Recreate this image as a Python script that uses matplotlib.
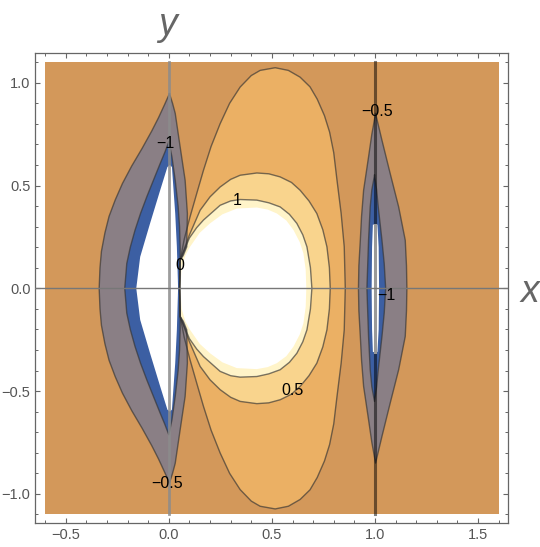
import numpy as np
import matplotlib
matplotlib.use("Agg")
import matplotlib.pyplot as plt
from matplotlib.ticker import MultipleLocator

# plot range of the contour data
x_range = [-0.6, 1.6]
y_range = [-1.1, 1.1]

# contour levels and fill colours (low -> high)
levels = [-1, -0.5, 0, 0.5, 1]
c_blue, c_grey, c_tan, c_orange, c_light, c_pale = \
    '#3c5fa3', '#8a7f85', '#d3985a', '#ebb064', '#f9d48d', '#fff4c9'

# ---- curves, upper half only (mirrored in y) ----
# left lobe, -0.5 contour: left edge and right edge, cusp -> y=0
lobeL_m05_left = [(0.003, 0.947), (-0.02, 0.895), (-0.05, 0.83), (-0.083, 0.765),
                  (-0.13, 0.68), (-0.18, 0.595), (-0.225, 0.51), (-0.26, 0.43),
                  (-0.29, 0.35), (-0.31, 0.27), (-0.327, 0.18), (-0.334, 0.10),
                  (-0.338, 0.0)]
lobeL_m05_right = [(0.003, 0.947), (0.018, 0.90), (0.031, 0.851), (0.055, 0.687),
                   (0.079, 0.526), (0.09, 0.364), (0.087, 0.202), (0.07, 0.16),
                   (0.055, 0.137), (0.052, 0.0)]
# left lobe, -1 contour
lobeL_m1_left = [(0.0, 0.712), (-0.02, 0.66), (-0.042, 0.607), (-0.075, 0.525),
                 (-0.107, 0.445), (-0.137, 0.365), (-0.164, 0.283), (-0.187, 0.20),
                 (-0.204, 0.121), (-0.214, 0.0)]
lobeL_m1_right = [(0.0, 0.712), (0.015, 0.64), (0.031, 0.526), (0.045, 0.40),
                  (0.052, 0.30), (0.055, 0.20), (0.055, 0.137), (0.053, 0.0)]
# left lobe, clipped (white) part
lobeL_cut_left = [(0.005, 0.60), (-0.007, 0.59), (-0.042, 0.477), (-0.091, 0.316),
                  (-0.139, 0.153), (-0.158, 0.0)]
lobeL_cut_right = [(0.005, 0.60), (0.015, 0.59), (0.031, 0.364), (0.039, 0.202),
                   (0.045, 0.0)]

# right lobe
lobeR_m05_left = [(1.003, 0.85), (0.985, 0.75), (0.969, 0.639), (0.945, 0.477),
                  (0.935, 0.35), (0.929, 0.234), (0.922, 0.11), (0.920, 0.0)]
lobeR_m05_right = [(1.003, 0.85), (1.015, 0.80), (1.034, 0.72), (1.074, 0.558),
                   (1.115, 0.396), (1.147, 0.234), (1.153, 0.11), (1.155, 0.0)]
lobeR_m1_left = [(0.998, 0.55), (0.985, 0.48), (0.977, 0.396), (0.969, 0.234),
                 (0.961, 0.0)]
lobeR_m1_right = [(0.998, 0.55), (1.008, 0.48), (1.016, 0.396), (1.034, 0.234),
                  (1.045, 0.12), (1.052, 0.0)]
lobeR_cut_left = [(0.99, 0.31), (0.986, 0.2), (0.984, 0.0)]
lobeR_cut_right = [(1.012, 0.31), (1.018, 0.2), (1.02, 0.0)]

# central bubbles: from the pinch point near x=0.05 round to y=0 on the right
bub_0 = [(0.052, 0.0), (0.055, 0.137), (0.075, 0.24), (0.103, 0.348), (0.135, 0.46),
         (0.168, 0.574), (0.205, 0.69), (0.249, 0.801), (0.295, 0.90), (0.346, 0.979),
         (0.40, 1.035), (0.443, 1.06), (0.516, 1.073), (0.58, 1.06), (0.637, 1.027),
         (0.685, 0.98), (0.72, 0.92), (0.755, 0.84), (0.78, 0.76), (0.80, 0.66),
         (0.816, 0.525), (0.836, 0.364), (0.851, 0.202), (0.856, 0.0)]
bub_05 = [(0.052, 0.0), (0.055, 0.137), (0.10, 0.26), (0.152, 0.38), (0.20, 0.445),
          (0.249, 0.493), (0.30, 0.53), (0.346, 0.55), (0.427, 0.561), (0.485, 0.557),
          (0.540, 0.542), (0.595, 0.515), (0.637, 0.477), (0.68, 0.425), (0.718, 0.364),
          (0.747, 0.285), (0.767, 0.202), (0.779, 0.10), (0.783, 0.0)]
bub_1 = [(0.052, 0.0), (0.055, 0.137), (0.10, 0.245), (0.135, 0.295), (0.168, 0.332),
         (0.249, 0.404), (0.30, 0.425), (0.346, 0.432), (0.427, 0.429), (0.485, 0.416),
         (0.540, 0.396), (0.585, 0.36), (0.621, 0.316), (0.650, 0.26), (0.670, 0.202),
         (0.687, 0.10), (0.694, 0.0)]
bub_cut = [(0.056, 0.0), (0.062, 0.10), (0.08, 0.16), (0.103, 0.202), (0.15, 0.27),
           (0.2, 0.316), (0.26, 0.36), (0.33, 0.388), (0.427, 0.393), (0.48, 0.383),
           (0.524, 0.364), (0.57, 0.33), (0.605, 0.283), (0.635, 0.225), (0.653, 0.17),
           (0.664, 0.09), (0.667, 0.0)]

# contour labels
lab_text = ['\u22121', '0', '1', '0.5', '\u22120.5', '\u22120.5', '\u22121']
lab_x = [-0.015, 0.055, 0.333, 0.602, 1.01, -0.01, 1.055]
lab_y = [0.704, 0.113, 0.425, -0.497, 0.861, -0.947, -0.036]


def lobe(left, right):
    pts = list(left) + [(x, -y) for x, y in left[::-1]] + \
        [(x, -y) for x, y in right] + list(right[::-1])
    return np.array(pts)


def bubble(half):
    pts = list(half) + [(x, -y) for x, y in half[::-1]]
    return np.array(pts)


fig = plt.figure(figsize=(5.40, 5.47), dpi=100)
ax = fig.add_axes([0.0657, 0.0433, 0.8756, 0.8592])

line_kw = dict(color='#333333', alpha=0.65, lw=1.0, zorder=3)

ax.fill([x_range[0], x_range[1], x_range[1], x_range[0]],
        [y_range[0], y_range[0], y_range[1], y_range[1]], color=c_tan, lw=0, zorder=1)

# central bubbles
for half, col in [(bub_0, c_orange), (bub_05, c_light), (bub_1, c_pale), (bub_cut, 'white')]:
    p = bubble(half)
    ax.fill(p[:, 0], p[:, 1], color=col, lw=0, zorder=2)
    if col != 'white':
        ax.plot(p[:, 0], p[:, 1], **line_kw)

# side lobes
for (l05, r05, l1, r1, lc, rc) in [
        (lobeL_m05_left, lobeL_m05_right, lobeL_m1_left, lobeL_m1_right, lobeL_cut_left, lobeL_cut_right),
        (lobeR_m05_left, lobeR_m05_right, lobeR_m1_left, lobeR_m1_right, lobeR_cut_left, lobeR_cut_right)]:
    p = lobe(l05, r05)
    ax.fill(p[:, 0], p[:, 1], color=c_grey, lw=0, zorder=2)
    ax.plot(np.append(p[:, 0], p[0, 0]), np.append(p[:, 1], p[0, 1]), **line_kw)
    p = lobe(l1, r1)
    ax.fill(p[:, 0], p[:, 1], color=c_blue, lw=0, zorder=2)
    ax.plot(np.append(p[:, 0], p[0, 0]), np.append(p[:, 1], p[0, 1]), **line_kw)
    p = lobe(lc, rc)
    ax.fill(p[:, 0], p[:, 1], color='white', lw=0, zorder=2)

# singular lines at x=0 and x=1
ax.plot([0, 0], y_range, color='#8c8c8c', lw=2.0, alpha=0.85, zorder=4)
ax.plot([1, 1], [0.31, y_range[1]], color='black', lw=2.2, alpha=0.5, zorder=4)
ax.plot([1, 1], [-0.31, y_range[0]], color='black', lw=2.2, alpha=0.5, zorder=4)
ax.plot([1, 1], [-0.31, 0.31], color='#999999', lw=2.2, zorder=4)

# axis through y=0
ax.axhline(0, color='#777777', lw=1.0, zorder=4)

for t, x, y in zip(lab_text, lab_x, lab_y):
    ax.text(x, y, t, ha='center', va='center', fontsize=11.5,
            family='Liberation Sans', color='black', zorder=5)

ax.set_xlim(-0.647, 1.647)
ax.set_ylim(-1.143, 1.143)
ax.xaxis.set_major_locator(MultipleLocator(0.5))
ax.xaxis.set_minor_locator(MultipleLocator(0.1))
ax.yaxis.set_major_locator(MultipleLocator(0.5))
ax.yaxis.set_minor_locator(MultipleLocator(0.1))
ax.tick_params(which='both', direction='in', top=True, right=True,
               color='#666666', labelcolor='#555555', labelsize=10.5)
ax.tick_params(which='major', length=3.6, width=0.8)
ax.tick_params(which='minor', length=2.0, width=0.7)
ax.xaxis.set_major_formatter(plt.FuncFormatter(lambda v, p: ('%.1f' % v).replace('-', '\u2212')))
ax.yaxis.set_major_formatter(plt.FuncFormatter(lambda v, p: ('%.1f' % v).replace('-', '\u2212')))
for lab in ax.get_xticklabels() + ax.get_yticklabels():
    lab.set_family('Liberation Sans')
for s in ax.spines.values():
    s.set_color('#666666')
    s.set_linewidth(0.9)

fig.text(0.311, 0.954, 'y', fontsize=27, style='italic', color='#666666',
         family='Liberation Sans', ha='center', va='center')
fig.text(0.981, 0.466, 'x', fontsize=27, style='italic', color='#666666',
         family='Liberation Sans', ha='center', va='center')

fig.savefig('out.png', dpi=100)
